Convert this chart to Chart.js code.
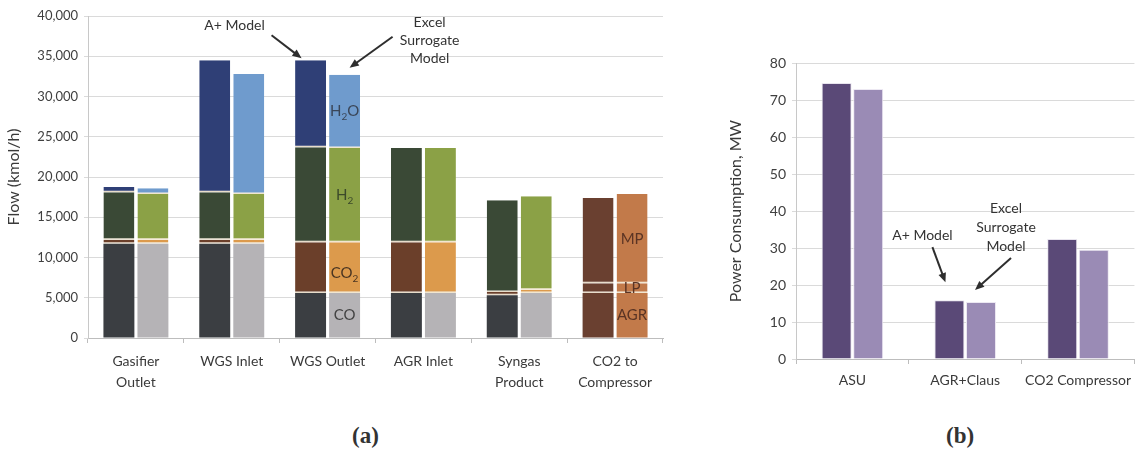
<!DOCTYPE html>
<html>
<head>
<meta charset="utf-8">
<script src="https://cdn.jsdelivr.net/npm/chart.js@4/dist/chart.umd.min.js"></script>
<style>
  html, body { margin: 0; padding: 0; background: #fff; }
  body { width: 1139px; height: 458px; position: relative; overflow: hidden; }
  canvas { position: absolute; top: 0; }
  #flow { left: 0; }
  #power { left: 690px; }
  .tag { position: absolute; top: 423px; font: bold 23px "Liberation Serif", "DejaVu Serif", serif; color: #333; }
</style>
</head>
<body>
<canvas id="flow" width="680" height="400"></canvas>
<canvas id="power" width="449" height="400"></canvas>
<div class="tag" style="left:352px">(a)</div>
<div class="tag" style="left:946px">(b)</div>
<script>
// ---- panel (a): stream flows, kmol/h ----
const flowCategories = [["Gasifier", "Outlet"], "WGS Inlet", "WGS Outlet", "AGR Inlet", ["Syngas", "Product"], ["CO2 to", "Compressor"]];

// A+ model
const coAplus  = [11700, 11700, 5600, 5600, 5300, null];
const co2Aplus = [500, 500, 6300, 6300, 400, null];
const h2Aplus  = [5900, 5900, 11800, 11700, 11400, null];
const h2oAplus = [650, 16400, 10800, null, null, null];
const agrAplus = [null, null, null, null, null, 5600];
const lpAplus  = [null, null, null, null, null, 1200];
const mpAplus  = [null, null, null, null, null, 10600];

// Excel surrogate model
const coExcel  = [11700, 11700, 5600, 5600, 5600, null];
const co2Excel = [500, 500, 6300, 6300, 400, null];
const h2Excel  = [5700, 5700, 11700, 11700, 11600, null];
const h2oExcel = [700, 14900, 9100, null, null, null];
const agrExcel = [null, null, null, null, null, 5600];
const lpExcel  = [null, null, null, null, null, 1200];
const mpExcel  = [null, null, null, null, null, 11100];

const flowTicks = [0, 5000, 10000, 15000, 20000, 25000, 30000, 35000, 40000];

// ---- panel (b): power consumption, MW ----
const powerCategories = ["ASU", "AGR+Claus", "CO2 Compressor"];
const powerAplus = [74.6, 15.9, 32.4];
const powerExcel = [73.0, 15.4, 29.5];

const FONT = "Lato, 'Open Sans', sans-serif";
Chart.defaults.font.family = FONT;
Chart.defaults.animation = false;

const segments = [
  { name: "CO",  a: coAplus,  e: coExcel,  ca: "#3b3e42", ce: "#b5b3b6" },
  { name: "CO2", a: co2Aplus, e: co2Excel, ca: "#6b3f2a", ce: "#dc9a4c" },
  { name: "H2",  a: h2Aplus,  e: h2Excel,  ca: "#3a4936", ce: "#8ba146" },
  { name: "H2O", a: h2oAplus, e: h2oExcel, ca: "#2f3f76", ce: "#6f9bcd" },
  { name: "AGR", a: agrAplus, e: agrExcel, ca: "#6a4030", ce: "#c27a4a" },
  { name: "LP",  a: lpAplus,  e: lpExcel,  ca: "#6a4030", ce: "#c27a4a" },
  { name: "MP",  a: mpAplus,  e: mpExcel,  ca: "#6a4030", ce: "#c27a4a" },
];

const flowDatasets = [];
segments.forEach((s, k) => {
  // light separator along the bottom of every segment except the first
  const sep = { top: 0, left: 0, right: 0, bottom: (k === 0 || s.name === "AGR") ? 0 : 1.5 };
  flowDatasets.push({ label: s.name + " A+", data: s.a, stack: "aplus", backgroundColor: s.ca,
    borderColor: "rgba(226,212,190,0.8)", borderWidth: sep, borderSkipped: false });
  flowDatasets.push({ label: s.name + " Excel", data: s.e, stack: "excel", backgroundColor: s.ce,
    borderColor: "rgba(238,224,196,0.8)", borderWidth: sep, borderSkipped: false });
});

function drawArrow(ctx, x1, y1, x2, y2) {
  const ang = Math.atan2(y2 - y1, x2 - x1);
  ctx.save();
  ctx.strokeStyle = "#2e2e2e";
  ctx.fillStyle = "#2e2e2e";
  ctx.lineWidth = 2;
  ctx.beginPath();
  ctx.moveTo(x1, y1);
  ctx.lineTo(x2 - 6 * Math.cos(ang), y2 - 6 * Math.sin(ang));
  ctx.stroke();
  ctx.beginPath();
  ctx.moveTo(x2, y2);
  ctx.lineTo(x2 - 10 * Math.cos(ang - 0.4), y2 - 10 * Math.sin(ang - 0.4));
  ctx.lineTo(x2 - 10 * Math.cos(ang + 0.4), y2 - 10 * Math.sin(ang + 0.4));
  ctx.closePath();
  ctx.fill();
  ctx.restore();
}

function drawLines(ctx, lines, x, y, gap, size) {
  ctx.save();
  ctx.font = `${size}px ${FONT}`;
  ctx.fillStyle = "#333";
  ctx.textAlign = "center";
  ctx.textBaseline = "middle";
  lines.forEach((t, i) => ctx.fillText(t, x, y + i * gap));
  ctx.restore();
}

// text with subscripts: parts = [[text, isSub], ...]
function drawSub(ctx, parts, cx, cy, color) {
  ctx.save();
  ctx.fillStyle = color;
  ctx.textBaseline = "alphabetic";
  const big = `15px ${FONT}`, small = `10px ${FONT}`;
  let w = 0;
  parts.forEach(([t, sub]) => { ctx.font = sub ? small : big; w += ctx.measureText(t).width; });
  let x = cx - w / 2;
  parts.forEach(([t, sub]) => {
    ctx.font = sub ? small : big;
    ctx.fillText(t, x, cy + 5 + (sub ? 4 : 0));
    x += ctx.measureText(t).width;
  });
  ctx.restore();
}

function bar(chart, label, i) {
  const idx = chart.data.datasets.findIndex((d) => d.label === label);
  return chart.getDatasetMeta(idx).data[i];
}

const flowNotes = {
  id: "flowNotes",
  afterDatasetsDraw(chart) {
    const ctx = chart.ctx;
    const mid = (b) => (b.y + b.base) / 2;
    let b = bar(chart, "H2O Excel", 2);
    drawSub(ctx, [["H", false], ["2", true], ["O", false]], b.x, mid(b), "#3a4658");
    b = bar(chart, "H2 Excel", 2);
    drawSub(ctx, [["H", false], ["2", true]], b.x, mid(b), "#3c4a2a");
    b = bar(chart, "CO2 Excel", 2);
    drawSub(ctx, [["CO", false], ["2", true]], b.x, mid(b) + 5, "#4a3522");
    b = bar(chart, "CO Excel", 2);
    drawSub(ctx, [["CO", false]], b.x, mid(b), "#444");
    ["MP", "LP", "AGR"].forEach((n) => {
      const e = bar(chart, n + " Excel", 5);
      drawSub(ctx, [[n, false]], e.x, mid(e), "#5a3424");
    });

    const a = bar(chart, "H2O A+", 2);
    drawArrow(ctx, a.x - 39, a.y - 25, a.x - 9, a.y - 2);
    drawLines(ctx, ["A+ Model"], a.x - 76, a.y - 35, 0, 14);
    const e = bar(chart, "H2O Excel", 2);
    drawArrow(ctx, e.x + 48, e.y - 38, e.x + 5, e.y - 7);
    drawLines(ctx, ["Excel", "Surrogate", "Model"], e.x + 85, e.y - 52, 18, 14);
  },
};

new Chart(document.getElementById("flow"), {
  type: "bar",
  data: { labels: flowCategories, datasets: flowDatasets },
  options: {
    responsive: false,
    layout: { padding: { top: 16, right: 17, bottom: 0, left: 0 } },
    categoryPercentage: 0.71,
    barPercentage: 0.91,
    plugins: { legend: { display: false }, tooltip: { enabled: false } },
    scales: {
      x: {
        stacked: true,
        afterFit: (s) => { s.height = 62; },
        grid: { offset: true, drawOnChartArea: false, tickLength: 5, color: "#bdbdbd" },
        border: { color: "#bdbdbd" },
        ticks: { color: "#3a3a3a", font: { size: 14, lineHeight: 1.5 }, padding: 8, maxRotation: 0, autoSkip: false },
      },
      y: {
        stacked: true,
        min: 0,
        max: 40000,
        afterFit: (s) => { s.width = 88; },
        afterBuildTicks: (s) => { s.ticks = flowTicks.map((v) => ({ value: v })); },
        grid: { color: "#dadada", tickLength: 4 },
        border: { color: "#c8c8c8" },
        ticks: { color: "#404040", font: { size: 13 }, padding: 6,
          callback: (v) => v.toLocaleString("en-US") },
        title: { display: true, text: "Flow (kmol/h)", color: "#3a3a3a", font: { size: 16 }, padding: { top: 4, bottom: 6 } },
      },
    },
  },
  plugins: [flowNotes],
});

const powerNotes = {
  id: "powerNotes",
  afterDatasetsDraw(chart) {
    const ctx = chart.ctx;
    const a = chart.getDatasetMeta(0).data[1];
    drawArrow(ctx, a.x - 17, a.y - 53, a.x - 4, a.y - 18);
    drawLines(ctx, ["A+ Model"], a.x - 27, a.y - 65, 0, 14);
    const e = chart.getDatasetMeta(1).data[1];
    drawArrow(ctx, e.x + 30, e.y - 44, e.x - 6, e.y - 12);
    drawLines(ctx, ["Excel", "Surrogate", "Model"], e.x + 25, e.y - 94, 19, 14);
  },
};

new Chart(document.getElementById("power"), {
  type: "bar",
  data: {
    labels: powerCategories,
    datasets: [
      { label: "A+ Model", data: powerAplus, backgroundColor: "#5a4977", borderColor: "#e8e4ee", borderWidth: 1 },
      { label: "Excel Surrogate Model", data: powerExcel, backgroundColor: "#9a8bb5", borderColor: "#ece8f2", borderWidth: 1 },
    ],
  },
  options: {
    responsive: false,
    layout: { padding: { top: 63, right: 0, bottom: 0, left: 36 } },
    categoryPercentage: 0.56,
    barPercentage: 0.95,
    plugins: { legend: { display: false }, tooltip: { enabled: false } },
    scales: {
      x: {
        afterFit: (s) => { s.height = 41; },
        grid: { offset: true, drawOnChartArea: false, tickLength: 5, color: "#bdbdbd" },
        border: { color: "#bdbdbd" },
        ticks: { color: "#3a3a3a", font: { size: 14 }, padding: 8, maxRotation: 0, autoSkip: false },
      },
      y: {
        min: 0,
        max: 80,
        afterFit: (s) => { s.width = 70; },
        grid: { color: "#dadada", tickLength: 4 },
        border: { color: "#c8c8c8" },
        ticks: { stepSize: 10, color: "#404040", font: { size: 14 }, padding: 6 },
        title: { display: true, text: "Power Consumption, MW", color: "#3a3a3a", font: { size: 16 }, padding: { top: 0, bottom: 8 } },
      },
    },
  },
  plugins: [powerNotes],
});
</script>
</body>
</html>
